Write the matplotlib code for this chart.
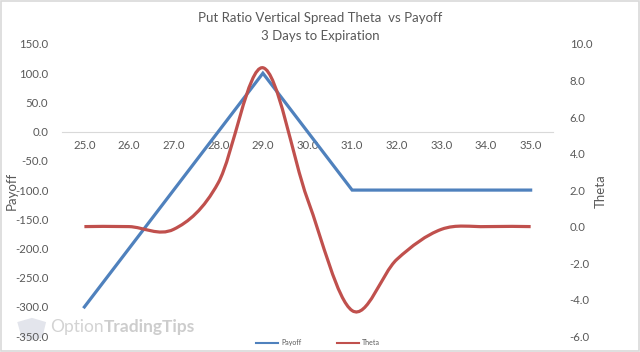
import matplotlib.pyplot as plt
from matplotlib.path import Path
from matplotlib.patches import PathPatch, Rectangle, Polygon
from matplotlib.lines import Line2D
from matplotlib.ticker import MultipleLocator, FormatStrFormatter

prices = [25.0, 26.0, 27.0, 28.0, 29.0, 30.0, 31.0, 32.0, 33.0, 34.0, 35.0]
payoff = [-300, -200, -100, 0, 100, 0, -100, -100, -100, -100, -100]
theta = [0.0, 0.0, -0.15, 2.4, 8.7, 1.5, -4.6, -1.8, -0.15, 0.0, 0.0]

BLUE = "#4f81bd"
RED = "#c0504d"
TXT = "#595959"

plt.rcParams['font.family'] = ['Lato', 'DejaVu Sans']


def smooth_path(xs, ys):
    # excel style smoothed line: catmull-rom segments as cubic beziers
    verts = [(xs[0], ys[0])]
    codes = [Path.MOVETO]
    n = len(xs)
    for i in range(n - 1):
        x0, y0 = (xs[i - 1], ys[i - 1]) if i > 0 else (xs[i], ys[i])
        x1, y1 = xs[i], ys[i]
        x2, y2 = xs[i + 1], ys[i + 1]
        x3, y3 = (xs[i + 2], ys[i + 2]) if i + 2 < n else (x2, y2)
        verts += [(x1 + (x2 - x0) / 6, y1 + (y2 - y0) / 6),
                  (x2 - (x3 - x1) / 6, y2 - (y3 - y1) / 6),
                  (x2, y2)]
        codes += [Path.CURVE4] * 3
    return Path(verts, codes)


def main():
    fig = plt.figure(figsize=(6.4, 3.52), dpi=100)
    ax = fig.add_axes([0.097, 0.045, 0.767, 0.83])
    ax.set_facecolor('none')
    ax2 = ax.twinx()

    ax.plot(prices, payoff, color=BLUE, lw=2.3, solid_joinstyle='miter', zorder=3)
    ax2.add_patch(PathPatch(smooth_path(prices, theta), fill=False,
                            edgecolor=RED, lw=2.3, zorder=3))

    ax.set_xlim(24.5, 35.5)
    ax.set_ylim(-350, 150)
    ax2.set_ylim(-6, 10)
    ax.set_xticks(prices)
    ax.xaxis.set_major_formatter(FormatStrFormatter('%.1f'))
    ax.yaxis.set_major_locator(MultipleLocator(50))
    ax.yaxis.set_major_formatter(FormatStrFormatter('%.1f'))
    ax2.yaxis.set_major_locator(MultipleLocator(2))
    ax2.yaxis.set_major_formatter(FormatStrFormatter('%.1f'))

    for a in (ax, ax2):
        for s in a.spines.values():
            s.set_visible(False)
    ax.spines['bottom'].set_visible(True)
    ax.spines['bottom'].set_position(('data', 0))
    ax.spines['bottom'].set_color('#d9d9d9')
    ax.spines['bottom'].set_linewidth(0.8)

    ax.tick_params(axis='x', length=0, pad=6, labelsize=8.2, labelcolor=TXT)
    ax.tick_params(axis='y', length=0, pad=10, labelsize=8.2, labelcolor=TXT)
    ax2.tick_params(axis='y', length=0, pad=12, labelsize=8.2, labelcolor=TXT)

    ax.set_ylabel("Payoff", fontsize=9.5, color=TXT)
    ax.yaxis.set_label_coords(-0.09, 0.497)
    ax2.set_ylabel("Theta", fontsize=9.5, color=TXT, rotation=90)
    ax2.yaxis.set_label_coords(1.085, 0.497)

    fig.text(0.5, 0.949, "Put Ratio Vertical Spread Theta  vs Payoff",
             ha='center', va='center', fontsize=9.5, color=TXT)
    fig.text(0.5, 0.898, "3 Days to Expiration",
             ha='center', va='center', fontsize=9.5, color=TXT)

    # watermark (behind the axes)
    t1 = fig.text(0.078, 0.072, "Option", ha='left', va='center',
                  fontsize=12.5, color='#d3d3d3', zorder=-1)
    wm2 = plt.annotate("TradingTips", xy=(1, 0.5), xycoords=t1, ha='left', va='center',
                       fontsize=12.5, color='#cdcdcd', fontweight='bold',
                       annotation_clip=False)
    wm2.set_zorder(-1)
    fig.patches.append(Polygon([(0.027, 0.085), (0.05, 0.097), (0.072, 0.085),
                                (0.066, 0.04), (0.05, 0.033), (0.034, 0.04)],
                               closed=True, transform=fig.transFigure,
                               facecolor='#e3e5ec', edgecolor='none', zorder=-1))

    handles = [Line2D([], [], color=BLUE, lw=1.5), Line2D([], [], color=RED, lw=1.5)]
    fig.legend(handles, ["Payoff", "Theta"], loc='center', bbox_to_anchor=(0.497, 0.027),
               ncol=2, frameon=False, fontsize=5, labelcolor=TXT,
               handlelength=3.2, columnspacing=5, handletextpad=0.5)

    fig.patches.append(Rectangle((0.001, 0.002), 0.997, 0.995, transform=fig.transFigure,
                                 fill=False, edgecolor='#d9d9d9', lw=1.2))

    plt.savefig("out.png", dpi=100)


if __name__ == '__main__':
    main()
